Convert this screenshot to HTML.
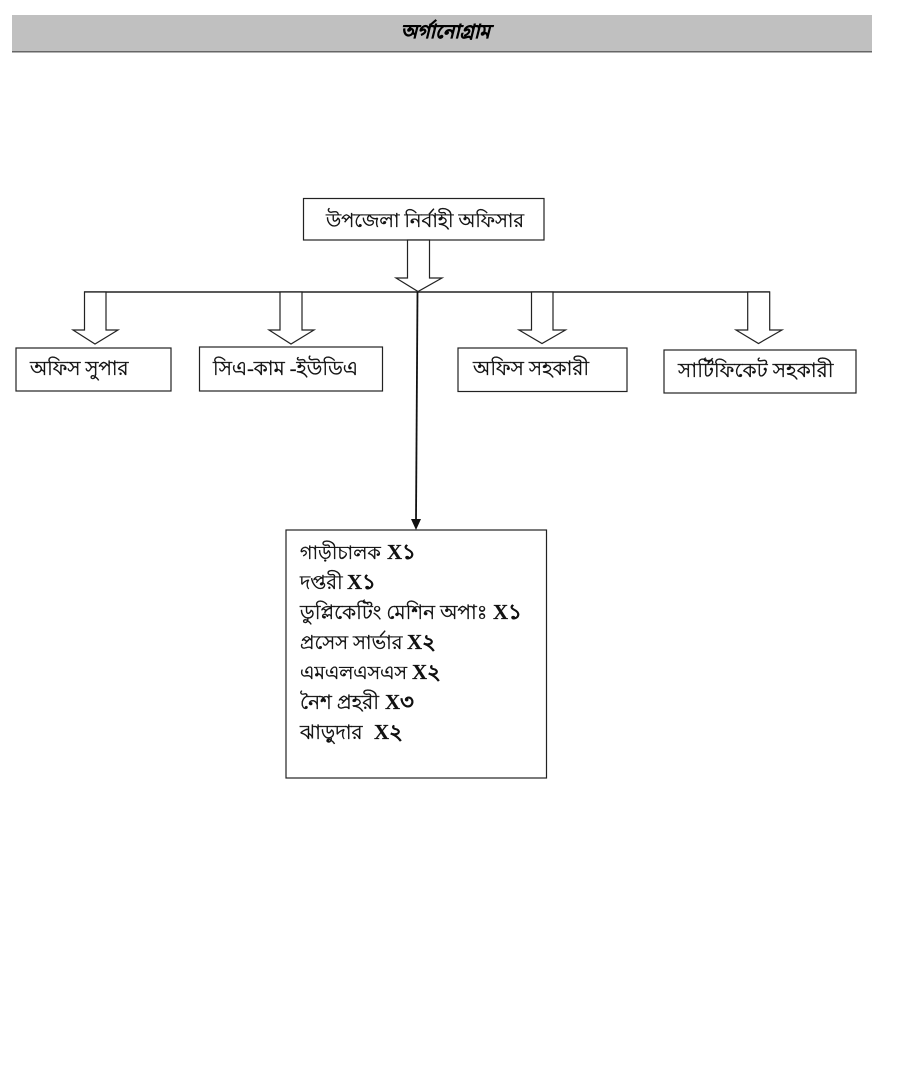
<!DOCTYPE html>
<html lang="bn">
<head>
<meta charset="utf-8">
<title>অর্গানোগ্রাম</title>
<style>
html,body{margin:0;padding:0;background:#fff;}
body{width:900px;height:1087px;overflow:hidden;position:relative;}
svg{position:absolute;left:0;top:0;display:block;}
text{font-family:"Liberation Serif","Noto Sans CJK SC",serif;fill:#111;}
.l{font-size:20px;stroke:#111;stroke-width:.35px;}
.x{font-weight:bold;font-size:21px;stroke-width:.2px;}
.t{font-size:19px;font-weight:bold;font-style:italic;stroke:#000;stroke-width:.5px;fill:#000;}
</style>
</head>
<body>
<svg width="900" height="1087" viewBox="0 0 900 1087" xmlns="http://www.w3.org/2000/svg">
  <rect x="12" y="15" width="860" height="36" fill="#c0c0c0"/>
  <rect x="12" y="51" width="860" height="1.5" fill="#666"/>
  <text class="t" x="445.5" y="38" text-anchor="middle">অর্গানোগ্রাম</text>

  <g fill="#fff" stroke="#222" stroke-width="1.2">
    <rect x="303.5" y="198.5" width="240.5" height="41.5"/>
    <rect x="16" y="348" width="155" height="43"/>
    <rect x="199.5" y="347" width="183" height="44"/>
    <rect x="458" y="348" width="169" height="43.5"/>
    <rect x="664" y="350" width="192" height="43"/>
    <rect x="286" y="530" width="260.5" height="248"/>
  </g>

  <line x1="84" y1="292" x2="770" y2="292" stroke="#222" stroke-width="1.4"/>

  <g fill="#fff" stroke="#222" stroke-width="1.2" stroke-linejoin="miter">
    <polygon points="407.5,240 429.5,240 429.5,278 442,278 418,291.5 396,278 407.5,278"/>
    <polygon points="84.5,292 106,292 106,330 118,330 95,344 73,330 84.5,330"/>
    <polygon points="280,292 302,292 302,330 314,330 291,344 269,330 280,330"/>
    <polygon points="531.5,292 553,292 553,330 565.5,330 542,343.5 519,330 531.5,330"/>
    <polygon points="747.7,292 769.7,292 769.7,330 782,330 758.5,343.5 736,330 747.7,330"/>
  </g>

  <line x1="417.5" y1="292" x2="416" y2="520" stroke="#111" stroke-width="1.8"/>
  <polygon points="411,519 421,519 416,530" fill="#111"/>

  <text class="l" x="326" y="227" style="font-size:19.4px">উপজেলা নির্বাহী অফিসার</text>
  <text class="l" x="30" y="375" style="font-size:19.8px">অফিস সুপার</text>
  <text class="l" x="213" y="375">সিএ-কাম -ইউডিএ</text>
  <text class="l" x="473" y="375">অফিস সহকারী</text>
  <text class="l" x="678" y="377" style="font-size:20.2px">সার্টিফিকেট সহকারী</text>

  <text class="l" x="300" y="559" style="font-size:19.2px">গাড়ীচালক <tspan class="x" x="387">X১</tspan></text>
  <text class="l" x="300" y="589" style="font-size:19.6px">দপ্তরী <tspan class="x" x="347">X১</tspan></text>
  <text class="l" x="300" y="619">ডুপ্লিকেটিং মেশিন অপাঃ <tspan class="x" x="493">X১</tspan></text>
  <text class="l" x="300" y="649" style="font-size:19.5px">প্রসেস সার্ভার <tspan class="x" x="407">X২</tspan></text>
  <text class="l" x="300" y="679" style="font-size:18.9px">এমএলএসএস <tspan class="x" x="412">X২</tspan></text>
  <text class="l" x="300" y="709">নৈশ প্রহরী <tspan class="x" x="385">X৩</tspan></text>
  <text class="l" x="300" y="739" xml:space="preserve">ঝাড়ুদার  <tspan class="x" x="374">X২</tspan></text>
</svg>
</body>
</html>
